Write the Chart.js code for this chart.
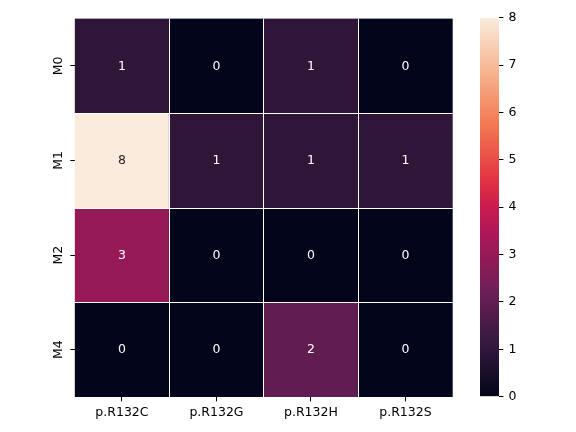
<!DOCTYPE html>
<html>
<head>
<meta charset="utf-8">
<script src="https://cdn.jsdelivr.net/npm/chart.js@4/dist/chart.umd.min.js"></script>
<style>
  html, body { margin: 0; padding: 0; background: #fff; }
  #wrap { position: relative; width: 576px; height: 432px; }
  #main { position: absolute; left: 0; top: 0; }
  #cbar { position: absolute; left: 480px; top: 0; }
</style>
</head>
<body>
<div id="wrap">
  <canvas id="main" width="576" height="432"></canvas>
  <canvas id="cbar" width="96" height="432"></canvas>
</div>
<script>
// ---- data ----
const rowLabels = ['M0', 'M1', 'M2', 'M4'];
const colLabels = ['p.R132C', 'p.R132G', 'p.R132H', 'p.R132S'];
const rowM0 = [1, 0, 1, 0];
const rowM1 = [8, 1, 1, 1];
const rowM2 = [3, 0, 0, 0];
const rowM4 = [0, 0, 2, 0];
const colorbarTicks = [0, 1, 2, 3, 4, 5, 6, 7, 8];
const vmin = 0, vmax = 8;

const matrix = [rowM0, rowM1, rowM2, rowM4];

// rocket colormap approximation
const rocketStops = [
  [0.000, [3, 5, 26]],
  [0.143, [53, 25, 62]],
  [0.286, [112, 31, 87]],
  [0.429, [173, 23, 89]],
  [0.500, [203, 27, 79]],
  [0.571, [225, 51, 66]],
  [0.714, [243, 118, 81]],
  [0.857, [246, 180, 143]],
  [1.000, [250, 235, 221]]
];
function rocket(t) {
  t = Math.max(0, Math.min(1, t));
  for (let i = 1; i < rocketStops.length; i++) {
    const [p1, c1] = rocketStops[i];
    const [p0, c0] = rocketStops[i - 1];
    if (t <= p1) {
      const f = (t - p0) / (p1 - p0);
      const c = c0.map((v, k) => Math.round(v + f * (c1[k] - v)));
      return `rgb(${c[0]},${c[1]},${c[2]})`;
    }
  }
  const c = rocketStops[rocketStops.length - 1][1];
  return `rgb(${c[0]},${c[1]},${c[2]})`;
}
const norm = v => (v - vmin) / (vmax - vmin);

Chart.defaults.font.family = "'DejaVu Sans', sans-serif";
Chart.defaults.font.size = 12.5;
Chart.defaults.color = '#000';

const datasets = rowLabels.map((r, ri) => ({
  label: r,
  data: matrix[ri].map(() => [ri, ri + 1]),
  values: matrix[ri],
  backgroundColor: matrix[ri].map(v => rocket(norm(v))),
  borderWidth: 0,
  borderSkipped: false,
  grouped: false,
  barPercentage: 1,
  categoryPercentage: 1,
  inflateAmount: 0.3
}));

const labelPlugin = {
  id: 'heatLabels',
  afterDatasetsDraw(chart) {
    const ctx = chart.ctx;
    const xs = chart.scales.x, ys = chart.scales.y;
    const ca = chart.chartArea;
    ctx.save();
    // white cell separators
    ctx.strokeStyle = '#ffffff';
    ctx.lineWidth = 1;
    ctx.beginPath();
    for (let i = 1; i < colLabels.length; i++) {
      const b = (xs.getPixelForValue(i - 1) + xs.getPixelForValue(i)) / 2;
      const px = Math.floor(b) + 0.5;
      ctx.moveTo(px, ca.top); ctx.lineTo(px, ca.bottom);
    }
    for (let i = 1; i < rowLabels.length; i++) {
      const b = ys.getPixelForValue(i);
      const py = Math.round(b) + 0.5;
      ctx.moveTo(ca.left, py); ctx.lineTo(ca.right, py);
    }
    ctx.stroke();

    ctx.font = "12.5px 'DejaVu Sans', sans-serif";
    ctx.textAlign = 'center';
    ctx.textBaseline = 'middle';
    chart.data.datasets.forEach((ds, di) => {
      const meta = chart.getDatasetMeta(di);
      meta.data.forEach((el, i) => {
        const v = ds.values[i];
        const t = norm(v);
        ctx.fillStyle = t > 0.6 ? '#262626' : '#ffffff';
        ctx.fillText(String(v), el.x, (el.y + el.base) / 2 + 0.5);
      });
    });
    // axis tick labels
    ctx.fillStyle = '#000';
    ctx.textBaseline = 'alphabetic';
    ctx.textAlign = 'center';
    colLabels.forEach((c, i) => {
      ctx.fillText(c, xs.getPixelForValue(i), 416);
    });
    rowLabels.forEach((r, i) => {
      const py = ys.getPixelForValue(i + 0.5);
      ctx.save();
      ctx.translate(62, py);
      ctx.rotate(-Math.PI / 2);
      ctx.textAlign = 'center';
      ctx.textBaseline = 'alphabetic';
      ctx.fillText(r, 0, 0);
      ctx.restore();
    });
    ctx.restore();
  }
};

new Chart(document.getElementById('main'), {
  type: 'bar',
  data: { labels: colLabels, datasets },
  options: {
    responsive: false,
    animation: false,
    layout: { padding: { left: 0, top: 18.6, right: 123.3, bottom: 0 } },
    plugins: { legend: { display: false }, tooltip: { enabled: false } },
    scales: {
      x: {
        type: 'category',
        offset: true,
        grid: { display: true, drawOnChartArea: false, drawTicks: true, tickLength: 4.4, tickColor: '#000', tickWidth: 1, offset: false },
        border: { display: false },
        ticks: { display: false },
        afterFit(s) { s.height = 35; }
      },
      y: {
        type: 'linear',
        min: 0, max: 4, reverse: true,
        grid: { display: true, drawOnChartArea: false, drawTicks: true, tickLength: 4.4, tickColor: '#000', tickWidth: 1 },
        border: { display: false },
        ticks: { display: false },
        afterBuildTicks(s) { s.ticks = rowLabels.map((_, i) => ({ value: i + 0.5 })); },
        afterFit(s) { s.width = 74.7; }
      }
    }
  },
  plugins: [labelPlugin]
});

// ---- colorbar ----
new Chart(document.getElementById('cbar'), {
  type: 'bar',
  data: {
    labels: ['cb'],
    datasets: [{
      data: [[vmin, vmax]],
      backgroundColor(ctx) {
        const ca = ctx.chart.chartArea;
        if (!ca) return rocket(0);
        const g = ctx.chart.ctx.createLinearGradient(0, ca.bottom, 0, ca.top);
        rocketStops.forEach(([p, c]) => g.addColorStop(p, `rgb(${c[0]},${c[1]},${c[2]})`));
        return g;
      },
      borderWidth: 0,
      barPercentage: 1,
      categoryPercentage: 1,
      inflateAmount: 0
    }]
  },
  options: {
    responsive: false,
    animation: false,
    layout: { padding: { left: 0, top: 17.7, right: 37, bottom: 35.3 } },
    plugins: { legend: { display: false }, tooltip: { enabled: false } },
    scales: {
      x: { display: false, offset: true },
      y: {
        position: 'right',
        min: vmin, max: vmax,
        afterBuildTicks(s) { s.ticks = colorbarTicks.map(v => ({ value: v })); },
        ticks: { padding: 5, color: '#000', font: { size: 12.5 } },
        grid: { display: true, drawOnChartArea: false, drawTicks: true, tickLength: 4.4, tickColor: '#000', tickWidth: 1 },
        border: { display: false },
        afterFit(s) { s.width = 40; }
      }
    }
  }
});
</script>
</body>
</html>
